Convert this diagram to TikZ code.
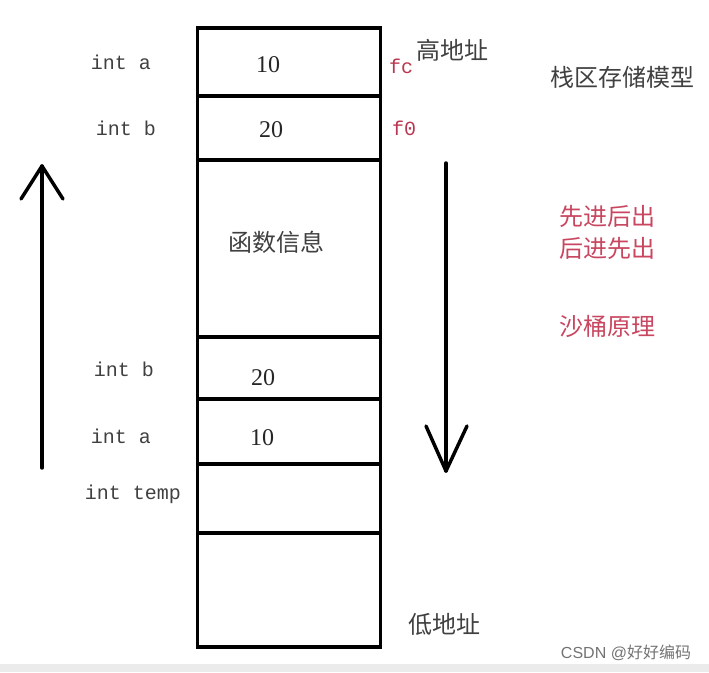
\documentclass[tikz,border=0pt]{standalone}
\usepackage{fontspec}
\setmainfont{Liberation Serif}
\setmonofont{Liberation Mono}
\newfontfamily\cjk{Noto Sans CJK SC}
\begin{document}
\begin{tikzpicture}[x=0.75pt,y=-0.75pt,
  cell/.style={draw=black,line width=2.6pt,minimum width=183*0.75pt,inner sep=0pt,outer sep=0pt},
  lbl/.style={font=\ttfamily\fontsize{15}{17}\selectfont,text=black!75},
  num/.style={font=\fontsize{18}{20}\selectfont,text=black!85},
  cn/.style={font=\cjk\fontsize{18}{20}\selectfont,text=black!75},
  red/.style={font=\cjk\fontsize{18}{20}\selectfont,text={rgb,255:red,200;green,70;blue,95}},
  hex/.style={font=\ttfamily\fontsize{15}{17}\selectfont,text={rgb,255:red,185;green,55;blue,80}},
  arr/.style={line width=2.6pt,line cap=round,line join=round}]
\useasboundingbox (0,0) rectangle (709,672);
\fill[black!8] (0,664) rectangle (709,672);
% stack cells
\node[cell,minimum height=68*0.75pt] (c1) at (289,62) {};
\node[cell,minimum height=64*0.75pt] (c2) at (289,128) {};
\node[cell,minimum height=177*0.75pt] (c3) at (289,248.5) {};
\node[cell,minimum height=62*0.75pt] (c4) at (289,368) {};
\node[cell,minimum height=65*0.75pt] (c5) at (289,431.5) {};
\node[cell,minimum height=69*0.75pt] (c6) at (289,498.5) {};
\node[cell,minimum height=114*0.75pt] (c7) at (289,590) {};
% cell contents
\node[num] (v1) at (268,65) {10};
\node[num] (v2) at (271,130) {20};
\node[cn] (fi) at (276,242) {函数信息};
\node[num] (v4) at (263,378) {20};
\node[num] (v5) at (262,438) {10};
% left labels
\node[lbl] (l1) at (121,62) {int a};
\node[lbl] (l2) at (126,128) {int b};
\node[lbl] (l4) at (124,369) {int b};
\node[lbl] (l5) at (121,436) {int a};
\node[lbl] (l6) at (133,494) {int temp};
% right texts
\node[hex] (fc) at (401,66) {fc};
\node[hex] (f0) at (404,128) {f0};
\node[cn] (hi) at (452,50) {高地址};
\node[cn] (lo) at (444,624) {低地址};
\node[cn] (title) at (622,77) {栈区存储模型};
\node[red] (r1) at (607,216) {先进后出};
\node[red] (r2) at (607,248) {后进先出};
\node[red] (r3) at (607,326) {沙桶原理};
\node[font=\fontspec{Liberation Sans}\fontsize{12}{14}\selectfont,text=black!55] (wm) at (626,653) {CSDN @\cjk 好好编码};
% arrows
\coordinate (ua) at (42,468);
\coordinate (ub) at (42,166);
\draw[arr] (ua) -- (ub);
\draw[arr] (21,199) -- (ub) -- (63,199);
\coordinate (da) at (446,163);
\coordinate (db) at (446,471);
\draw[arr] (da) -- (db);
\draw[arr] (426,426) -- (db) -- (467,426);
\end{tikzpicture}
\end{document}
